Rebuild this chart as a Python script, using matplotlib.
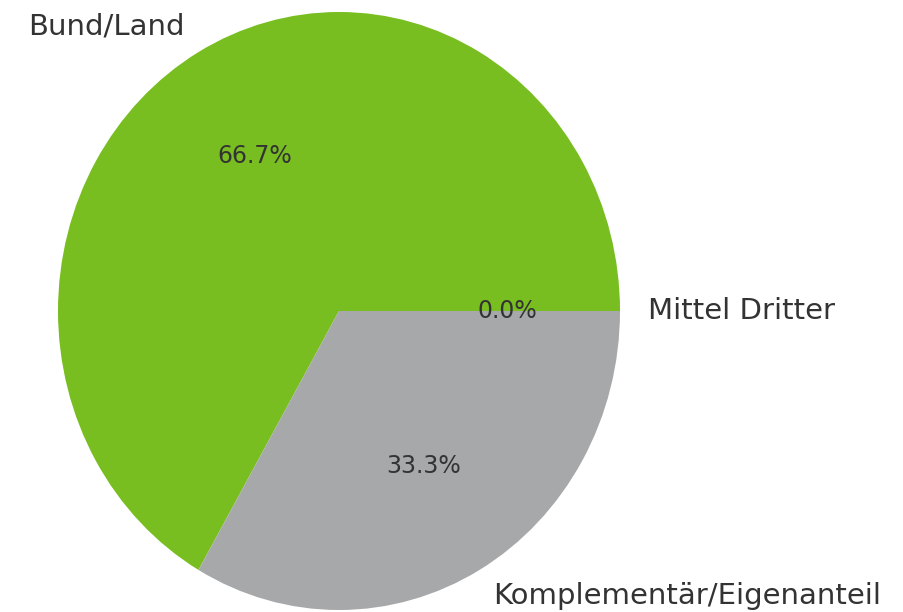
import matplotlib.pyplot as plt

labels = ['Bund/Land', 'Komplementär/Eigenanteil', 'Mittel Dritter']
values = [2, 1, 0]
colors = ['#78be20', '#a7a8aa', '#a7a8aa']

fig = plt.figure(figsize=(9.04, 6.12), dpi=100)
ax = fig.add_axes([0, 0, 1, 1])

wedges, texts, autotexts = ax.pie(values, labels=labels, colors=colors,
                                  autopct='%1.1f%%', startangle=0,
                                  textprops={'color': '#333333'})
for t in texts:
    t.set_fontsize(21)
for t in autotexts:
    t.set_fontsize(17)

# slightly stretched pie as in the original, centre at (339, 311) px
ax.set_aspect('auto')
ax.set_xlim(-339 / 281, (904 - 339) / 281)
ax.set_ylim(-301 / 299, (612 - 301) / 299)
ax.axis('off')

fig.savefig('out.png', dpi=100)
